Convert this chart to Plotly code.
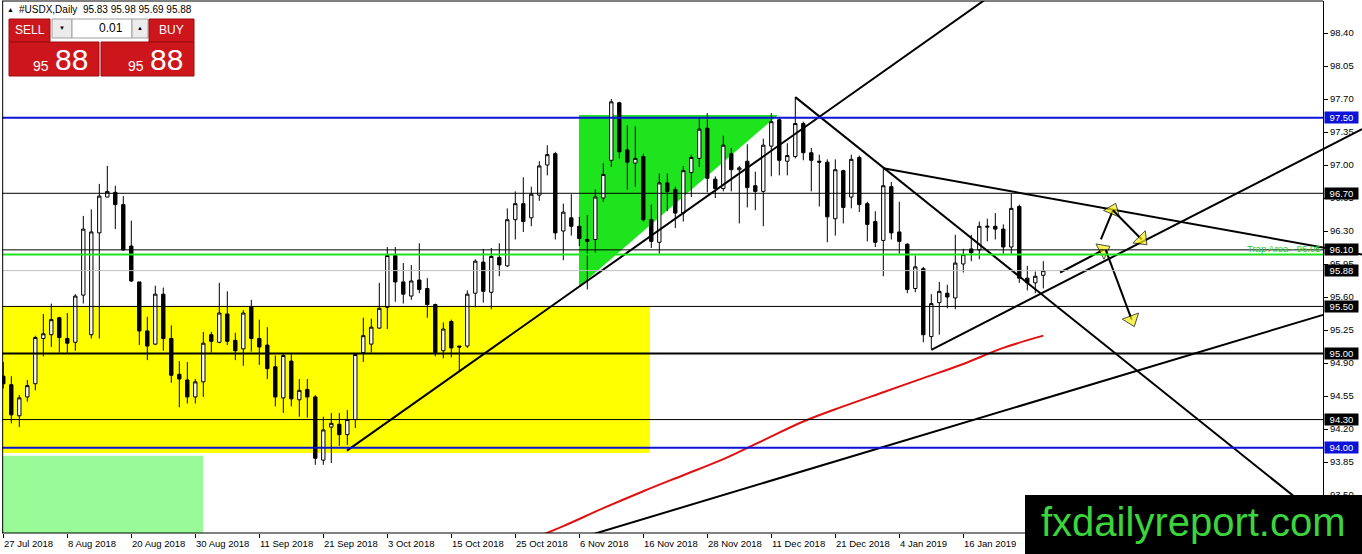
import plotly.graph_objects as go

# daily USDX bars, 27 Jul 2018 .. end of Jan 2019
OPEN = [94.76, 94.67, 94.34, 94.54, 94.68, 95.16, 95.20, 95.38, 95.16, 95.12,
        95.62, 95.20, 96.28, 96.66, 96.71, 96.58, 96.14, 95.76, 95.24, 95.10,
        95.63, 95.16, 94.78, 94.72, 94.54, 94.70, 95.20, 95.12, 95.42, 95.14,
        95.05, 95.50, 95.16, 95.09, 94.86, 94.53, 94.92, 94.51, 94.62, 94.54,
        93.87, 94.22, 94.25, 94.14, 94.30, 95.01, 95.10, 95.27, 95.49, 96.04,
        95.76, 95.61, 95.78, 95.69, 95.52, 95.03, 95.34, 95.08, 95.08, 95.64,
        95.97, 95.65, 96.02, 95.93, 96.42, 96.59, 96.44, 96.68, 97.00, 97.12,
        96.30, 96.44, 96.35, 96.21, 96.21, 96.65, 97.05, 97.66, 97.16, 97.02,
        97.09, 96.42, 96.18, 96.81, 96.74, 96.49, 96.92, 97.07, 97.39, 96.85,
        96.75, 97.12, 96.95, 97.04, 96.78, 96.72, 97.20, 97.48, 97.04, 97.09,
        97.44, 97.13, 97.04, 97.03, 96.43, 96.94, 96.66, 97.08, 96.59, 96.40,
        96.20, 96.77, 96.29, 96.16, 95.69, 95.90, 95.18, 95.54, 95.64, 95.59,
        95.95, 96.11, 96.10, 96.34, 96.35, 96.32, 96.13, 96.56, 95.80, 95.75,
        95.83]
HIGH = [94.91, 94.76, 94.56, 94.72, 95.19, 95.42, 95.53, 95.39, 95.43, 95.63,
        96.46, 96.53, 96.80, 96.99, 96.78, 96.67, 96.41, 95.76, 95.39, 95.72,
        95.70, 95.30, 94.92, 94.91, 94.73, 95.23, 95.23, 95.75, 95.66, 95.22,
        95.46, 95.57, 95.36, 95.28, 94.98, 95.00, 94.99, 94.73, 94.73, 94.56,
        94.33, 94.37, 94.37, 94.40, 94.99, 95.38, 95.37, 95.75, 96.13, 96.13,
        95.96, 95.94, 96.17, 95.80, 95.53, 95.33, 95.36, 95.08, 95.67, 96.00,
        96.11, 96.12, 96.17, 96.54, 96.72, 96.87, 96.77, 97.04, 97.21, 97.14,
        96.59, 96.69, 96.45, 96.47, 96.74, 97.02, 97.70, 97.67, 97.42, 97.41,
        97.12, 96.58, 96.91, 96.91, 96.77, 96.99, 97.11, 97.51, 97.55, 96.88,
        97.31, 97.18, 96.99, 97.22, 96.93, 97.28, 97.55, 97.50, 97.23, 97.72,
        97.46, 97.18, 97.11, 97.06, 97.06, 96.95, 97.11, 97.10, 96.61, 96.51,
        96.97, 96.82, 96.61, 96.17, 96.04, 95.92, 95.63, 95.76, 95.73, 96.26,
        96.11, 96.26, 96.40, 96.43, 96.49, 96.37, 96.70, 96.58, 95.93, 95.87,
        95.98]
LOW = [94.63, 94.26, 94.22, 94.49, 94.61, 94.97, 95.07, 95.01, 95.00, 95.03,
       95.53, 95.16, 95.16, 96.66, 96.32, 96.09, 95.76, 95.09, 94.93, 95.09,
       95.03, 94.69, 94.43, 94.47, 94.47, 94.54, 95.01, 95.11, 95.09, 94.93,
       94.87, 95.02, 94.88, 94.73, 94.44, 94.37, 94.44, 94.33, 94.32, 93.82,
       93.82, 93.84, 94.02, 94.03, 94.21, 94.91, 95.01, 95.26, 95.26, 95.55,
       95.53, 95.57, 95.64, 95.38, 94.97, 94.95, 94.96, 94.81, 95.06, 95.49,
       95.54, 95.47, 95.82, 95.92, 96.21, 96.29, 96.35, 96.62, 96.89, 96.21,
       95.99, 96.25, 96.14, 95.68, 96.07, 96.61, 96.98, 97.07, 96.74, 96.77,
       96.40, 96.12, 96.06, 96.51, 96.33, 96.40, 96.66, 96.98, 96.71, 96.65,
       96.72, 96.72, 96.38, 96.55, 96.52, 96.35, 96.88, 96.89, 96.89, 97.07,
       97.05, 96.72, 96.56, 96.18, 96.25, 96.38, 96.54, 96.50, 96.19, 96.13,
       95.82, 96.21, 96.06, 95.64, 95.65, 95.12, 95.05, 95.20, 95.48, 95.47,
       95.86, 95.98, 96.00, 96.19, 96.21, 96.06, 96.06, 95.75, 95.67, 95.64,
       95.69]
CLOSE = [94.68, 94.35, 94.53, 94.66, 95.17, 95.21, 95.36, 95.17, 95.11, 95.61,
         96.32, 96.29, 96.67, 96.72, 96.58, 96.10, 95.77, 95.24, 95.08, 95.63,
         95.16, 94.77, 94.73, 94.54, 94.70, 95.11, 95.13, 95.43, 95.13, 95.03,
         95.43, 95.16, 95.07, 94.84, 94.54, 94.98, 94.52, 94.61, 94.54, 93.89,
         94.19, 94.26, 94.14, 94.30, 94.99, 95.19, 95.28, 95.48, 96.04, 95.76,
         95.63, 95.77, 95.68, 95.52, 95.01, 95.26, 95.06, 95.07, 95.63, 95.98,
         95.66, 96.03, 95.94, 96.42, 96.59, 96.40, 96.69, 96.99, 97.11, 96.28,
         96.50, 96.35, 96.22, 96.19, 96.66, 96.90, 97.67, 97.14, 97.03, 97.07,
         96.42, 96.19, 96.81, 96.72, 96.49, 96.94, 97.08, 97.38, 96.86, 96.75,
         97.21, 96.95, 96.97, 96.76, 96.72, 97.21, 97.46, 97.05, 97.10, 97.44,
         97.13, 97.05, 97.03, 96.45, 96.95, 96.55, 97.06, 96.58, 96.37, 96.18,
         96.78, 96.28, 96.19, 95.68, 95.92, 95.20, 95.53, 95.66, 95.60, 95.96,
         96.05, 96.07, 96.35, 96.35, 96.32, 96.13, 96.54, 95.80, 95.75, 95.82,
         95.88]

DATE_LABELS = ["27 Jul 2018", "8 Aug 2018", "20 Aug 2018", "30 Aug 2018",
               "11 Sep 2018", "21 Sep 2018", "3 Oct 2018", "15 Oct 2018",
               "25 Oct 2018", "6 Nov 2018", "16 Nov 2018", "28 Nov 2018",
               "11 Dec 2018", "21 Dec 2018", "4 Jan 2019", "16 Jan 2019"]
LABEL_BARS = [0, 8, 16, 24, 32, 40, 48, 56, 64, 72, 80, 88, 96, 104, 112, 120]

PRICE_TICKS = [98.40, 98.05, 97.70, 97.35, 97.00, 96.65, 96.30, 95.95,
               95.60, 95.25, 94.90, 94.55, 94.20, 93.85, 93.50]

BLUE_LEVELS = [97.50, 94.00]
BLACK_LEVELS = [96.70, 96.10, 95.50, 94.30]
SUPPORT_LEVEL = 95.00
TRAP_LEVEL = 96.05

# red moving average
MA_BARS = [66, 70, 75, 80, 85, 90, 95, 100, 105, 110, 115, 120, 125, 130]
MA_VALUES = [93.03, 93.17, 93.36, 93.54, 93.71, 93.88, 94.08, 94.28,
             94.44, 94.59, 94.74, 94.89, 95.06, 95.19]

# hand drawn trend lines: (bar, price) -> (bar, price)
TRENDLINES = [
    ((42.96, 93.97), (125.0, 98.89)),
    ((99.0, 97.72), (164.96, 93.24)),
    ((110.0, 96.965), (169.84, 96.05)),
    ((116.0, 95.04), (169.84, 97.38)),
    ((70.0, 92.99), (164.96, 95.41)),
]
ARROWS = [
    ((132.1, 95.86), (137.5, 96.10)),
    ((137.2, 96.21), (138.7, 96.52)),
    ((138.7, 96.52), (142.3, 96.21)),
    ((137.8, 96.10), (141.05, 95.36)),
]

YELLOW_ZONE = (-1.0, 80.84, 93.945, 95.505)
GREEN_ZONE = (-1.0, 24.96, 92.5, 93.915)
TRIANGLE_X = [71.96, 96.84, 71.96]
TRIANGLE_Y = [97.53, 97.53, 95.71]

# ---- geometry of the MT4 window (pixels)
W, H = 1362, 554
PL, PR, PT, PB = 2, 1362, 1, 533
BAR_PX, BAR0_PX = 8.0, 3.3
AXIS_PX = 1323
K = 4.9 / 462  # price per pixel


def bar_at(px):
    return (px - BAR0_PX) / BAR_PX


def price_at(py):
    return 98.40 - (py - 33) * K


def pxx(px):
    return (px - PL) / (PR - PL)


def pxy(py):
    return (PB - py) / (PB - PT)


AXIS_BAR = bar_at(AXIS_PX)
XR = [bar_at(PL), bar_at(PR)]
YR = [price_at(PB), price_at(PT)]

BLUE = "#0c12d8"
RED = "#cc161b"
LIME = "#1ee41e"
FONT = "Liberation Sans, Arial, sans-serif"

fig = go.Figure()

bars = list(range(len(OPEN)))
fig.add_trace(go.Candlestick(
    x=bars, open=OPEN, high=HIGH, low=LOW, close=CLOSE,
    increasing=dict(fillcolor="white", line=dict(color="black", width=1)),
    decreasing=dict(fillcolor="black", line=dict(color="black", width=1)),
    whiskerwidth=0, hoverinfo="skip", showlegend=False,
))

fig.add_trace(go.Scatter(
    x=MA_BARS, y=MA_VALUES, mode="lines", line=dict(color="#e01010", width=2),
    line_shape="spline", hoverinfo="skip", showlegend=False,
))

for (x0, y0), (x1, y1) in TRENDLINES:
    fig.add_trace(go.Scatter(
        x=[x0, x1], y=[y0, y1], mode="lines", line=dict(color="black", width=2),
        cliponaxis=False, hoverinfo="skip", showlegend=False,
    ))

for (x0, y0), (x1, y1) in ARROWS:
    fig.add_trace(go.Scatter(
        x=[x0, x1], y=[y0, y1], mode="lines+markers",
        line=dict(color="black", width=2),
        marker=dict(symbol="triangle-up", size=[0, 15], color="#f5f00a",
                    angleref="previous", line=dict(color="black", width=1)),
        hoverinfo="skip", showlegend=False,
    ))

shapes = []
x0z, x1z, y0z, y1z = YELLOW_ZONE
shapes.append(dict(type="rect", xref="x", yref="y", x0=x0z, x1=x1z, y0=y0z, y1=y1z,
                   fillcolor="#ffff00", line=dict(width=0), layer="below"))
x0z, x1z, y0z, y1z = GREEN_ZONE
shapes.append(dict(type="rect", xref="x", yref="y", x0=x0z, x1=x1z, y0=y0z, y1=y1z,
                   fillcolor="#98fb98", line=dict(width=0), layer="below"))
tri_path = "M " + " L ".join(f"{x},{y}" for x, y in zip(TRIANGLE_X, TRIANGLE_Y)) + " Z"
shapes.append(dict(type="path", xref="x", yref="y", path=tri_path,
                   fillcolor=LIME, line=dict(width=0), layer="below"))


def hline(level, color, width):
    return dict(type="line", xref="x", yref="y", x0=XR[0], x1=AXIS_BAR,
                y0=level, y1=level, line=dict(color=color, width=width), layer="above")


shapes.append(hline(CLOSE[-1], "#c0c0c0", 1))
shapes.append(hline(TRAP_LEVEL, LIME, 2))
for lv in BLACK_LEVELS:
    shapes.append(hline(lv, "black", 1))
shapes.append(hline(SUPPORT_LEVEL, "black", 2))
for lv in BLUE_LEVELS:
    shapes.append(hline(lv, BLUE, 2))

# window frame
ax = pxx(AXIS_PX)
shapes.append(dict(type="line", xref="paper", yref="paper", x0=0.0005, x1=0.0005, y0=0, y1=1,
                   line=dict(color="black", width=1)))
shapes.append(dict(type="line", xref="paper", yref="paper", x0=0, x1=ax, y0=1, y1=1,
                   line=dict(color="black", width=1)))
shapes.append(dict(type="line", xref="paper", yref="paper", x0=0, x1=ax, y0=0, y1=0,
                   line=dict(color="black", width=1)))


def box(x0, y0, x1, y1, fill, line="rgba(0,0,0,0)"):
    return dict(type="rect", xref="paper", yref="paper", x0=pxx(x0), x1=pxx(x1),
                y0=pxy(y1), y1=pxy(y0), fillcolor=fill, line=dict(color=line, width=1),
                layer="above")


# one-click trading panel
shapes += [
    box(9, 19, 50, 42, RED, "#9a0c0c"),
    box(52, 19, 72, 38, "#ececec", "#a0a0a0"),
    box(72, 19, 132, 38, "white", "#a0a0a0"),
    box(132, 19, 148, 38, "#ececec", "#a0a0a0"),
    box(149, 19, 194, 42, RED, "#9a0c0c"),
    box(9, 42, 99, 76, RED, "#9a0c0c"),
    box(101, 42, 194, 76, RED, "#9a0c0c"),
]
# logo box
shapes.append(box(1025, 495, 1362, 554, "black"))

annotations = []


def text(px, py, s, size, color="black", xanchor="left", family=FONT):
    annotations.append(dict(xref="paper", yref="paper", x=pxx(px), y=pxy(py), text=s,
                            showarrow=False, xanchor=xanchor, yanchor="middle",
                            font=dict(family=family, size=size, color=color)))


text(5, 10, "▲", 7)
text(17, 10, "#USDX,Daily  95.83 95.98 95.69 95.88", 10)
text(29.5, 30, "SELL", 12, "white", "center")
text(62, 28, "▼", 6, "black", "center")
text(125, 28, "0.01", 12, "black", "right")
text(140, 28, "▲", 6, "black", "center")
text(171.5, 30, "BUY", 12, "white", "center")
text(51, 66, "95", 14, "white", "right")
text(53, 60, "88", 30, "white", "left")
text(146, 66, "95", 14, "white", "right")
text(148, 60, "88", 30, "white", "left")
text(1193, 522, "fxdailyreport.com", 40, "#3cd43c", "center")

for lbl, b in zip(DATE_LABELS, LABEL_BARS):
    annotations.append(dict(xref="x", yref="paper", x=b - 0.15, y=0, yshift=-3,
                            text=lbl, showarrow=False, xanchor="left", yanchor="top",
                            font=dict(family=FONT, size=9.5, color="black")))

annotations.append(dict(xref="x", yref="y", x=AXIS_BAR, y=TRAP_LEVEL, xanchor="right",
                        yanchor="bottom", yshift=-1, text="Trap Area - 96.05",
                        showarrow=False, font=dict(family=FONT, size=9.5, color="#22cc22")))

level_boxes = [(lv, BLUE) for lv in BLUE_LEVELS] + [(lv, "black") for lv in BLACK_LEVELS]
level_boxes += [(SUPPORT_LEVEL, "black"), (CLOSE[-1], "black")]
for lv, col in level_boxes:
    annotations.append(dict(xref="x", yref="y", x=AXIS_BAR, xshift=1, y=lv,
                            xanchor="left", yanchor="middle", text=f"{lv:.2f}",
                            showarrow=False, bgcolor=col, width=33, height=11,
                            borderpad=0,
                            font=dict(family=FONT, size=9.5, color="white")))

fig.update_layout(
    width=W, height=H,
    margin=dict(l=PL, r=W - PR, t=PT, b=H - PB),
    paper_bgcolor="white", plot_bgcolor="white",
    showlegend=False,
    xaxis=dict(range=XR, showgrid=False, zeroline=False, showline=False,
               rangeslider=dict(visible=False), tickvals=LABEL_BARS,
               showticklabels=False, ticks="outside", ticklen=4, tickcolor="black"),
    yaxis=dict(range=YR, anchor="free", position=ax, side="right",
               showgrid=False, zeroline=False, showline=True, linecolor="black",
               tickvals=PRICE_TICKS, ticktext=[f"{v:.2f}" for v in PRICE_TICKS],
               ticks="outside", ticklen=4, tickcolor="black",
               tickfont=dict(family=FONT, size=9.5, color="black")),
    shapes=shapes,
    annotations=annotations,
    boxgap=0.4,
)

# the page body has an 8px default margin; drop it so the chart sits at 0,0
fig.write_html("out.html", config={"displayModeBar": False},
               post_script="document.body.style.margin = '0px';")
